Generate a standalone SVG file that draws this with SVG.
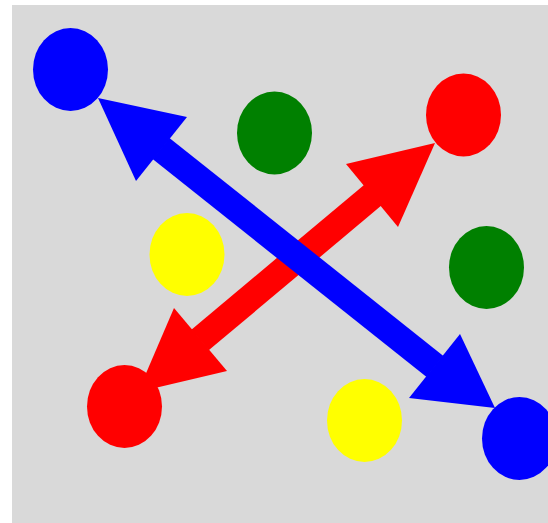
<svg xmlns="http://www.w3.org/2000/svg" width="548" height="523" viewBox="0 0 548 523">
<style>
.n{stroke:none}
.blue{fill:#0000ff}
.red{fill:#ff0000}
.green{fill:#008000}
.yellow{fill:#ffff00}
.sb{stroke:#0000ff;stroke-width:27;fill:none}
.sr{stroke:#ff0000;stroke-width:27;fill:none}
</style>
<rect x="12" y="5" width="540" height="522" fill="#d9d9d9"/>
<g id="node-blue1"><ellipse class="n blue" cx="70.5" cy="69.5" rx="37.5" ry="41.5"/></g>
<g id="node-green1"><ellipse class="n green" cx="274.5" cy="133" rx="37.5" ry="41.5"/></g>
<g id="node-red1"><ellipse class="n red" cx="463.5" cy="115" rx="37.5" ry="41.5"/></g>
<g id="node-yellow1"><ellipse class="n yellow" cx="187" cy="254.5" rx="37.5" ry="41.5"/></g>
<g id="node-green2"><ellipse class="n green" cx="486.5" cy="267.5" rx="37.5" ry="41.5"/></g>
<g id="node-red2"><ellipse class="n red" cx="124.5" cy="406.5" rx="37.5" ry="41.5"/></g>
<g id="node-yellow2"><ellipse class="n yellow" cx="364.5" cy="420.5" rx="37.5" ry="41.5"/></g>
<g id="node-blue2"><ellipse class="n blue" cx="519.5" cy="438.5" rx="37.5" ry="41.5"/></g>
<g id="connectors">
<g id="arrow-red">
<line class="sr" x1="373" y1="195" x2="200" y2="340"/>
<polygon class="red" points="435,143 346,164 398,227"/>
<polygon class="red" points="138,392 174,308 227,371"/>
</g>
<g id="arrow-blue">
<line class="sb" x1="161" y1="148.5" x2="435" y2="366.5"/>
<polygon class="blue" points="98,98 187,117 136,181"/>
<polygon class="blue" points="495,408 460,334 409,398"/>
</g>
</g>
</svg>
